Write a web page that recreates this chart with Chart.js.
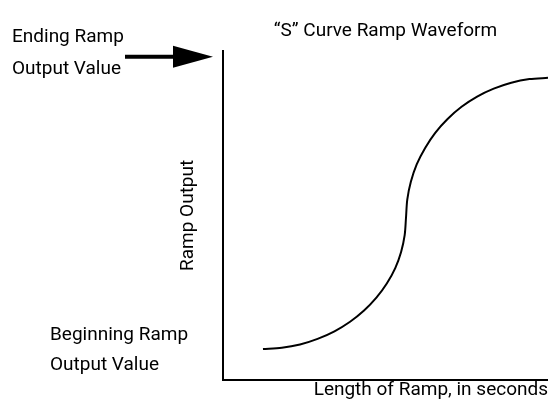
<!DOCTYPE html>
<html>
<head>
<meta charset="utf-8">
<script src="https://cdn.jsdelivr.net/npm/chart.js@4"></script>
<style>
  body { margin: 0; background: #fff; }
  canvas { display: block; }
</style>
</head>
<body>
<canvas id="rampa" width="548" height="405"></canvas>
<script>
// S curve (x = % of ramp time, y = % of output)
const rampTime   = [12.3, 18.1, 23.7, 29.1, 34.3, 39.1, 43.4, 47.2, 50.4, 53.0, 54.8, 55.9, 56.3,
                    56.7, 57.8, 59.6, 62.2, 65.3, 69.1, 73.4, 78.2, 83.3, 88.7, 94.3, 100];
const rampOutput = [ 9.4,  9.8, 10.8, 12.5, 14.8, 17.7, 21.1, 25.0, 29.3, 34.0, 38.9, 44.0, 49.2,
                    54.8, 60.2, 65.5, 70.5, 75.1, 79.3, 83.0, 86.1, 88.5, 90.3, 91.4, 91.8];
const axisRange = [0, 100];

const chartTitle = '\u201CS\u201D Curve Ramp Waveform';
const xTitle = 'Length of Ramp, in seconds';
const yTitle = 'Ramp Output';
const endLabel = ['Ending Ramp', 'Output Value'];
const beginLabel = ['Beginning Ramp', 'Output Value'];

const fonte = 'Roboto, "Liberation Sans", sans-serif';

const pontos = rampTime.map((t, i) => ({x: t, y: rampOutput[i]}));

// texts on the left + arrow, placed from the y scale
const rotulos = {
  id: 'rotulos',
  afterDraw(chart) {
    const ctx = chart.ctx;
    const y = chart.scales.y;
    const topo = y.getPixelForValue(axisRange[1]);
    const inicio = y.getPixelForValue(rampOutput[0]);
    ctx.save();
    ctx.fillStyle = '#000';
    ctx.font = '19px ' + fonte;
    ctx.textAlign = 'left';
    ctx.textBaseline = 'alphabetic';
    ctx.fillText(endLabel[0], 12, topo - 9);
    ctx.fillText(endLabel[1], 12, topo + 23);
    ctx.fillText(beginLabel[0], 50, inicio - 9);
    ctx.fillText(beginLabel[1], 50, inicio + 21);

    // arrow
    const ay = topo + 6;
    const ponta = chart.chartArea.left - 10;
    ctx.strokeStyle = '#000';
    ctx.lineWidth = 4;
    ctx.beginPath();
    ctx.moveTo(125, ay);
    ctx.lineTo(ponta - 30, ay);
    ctx.stroke();
    ctx.beginPath();
    ctx.moveTo(ponta - 40, ay - 11);
    ctx.lineTo(ponta, ay);
    ctx.lineTo(ponta - 40, ay + 11);
    ctx.closePath();
    ctx.fill();
    ctx.restore();
  }
};

new Chart(document.getElementById('rampa'), {
  type: 'scatter',
  data: {
    datasets: [{
      data: pontos,
      showLine: true,
      borderColor: '#000',
      borderWidth: 2,
      pointRadius: 0,
      tension: 0.3,
      fill: false
    }]
  },
  options: {
    responsive: false,
    animation: false,
    layout: { padding: { left: 170, top: 0, right: 0, bottom: 0 } },
    plugins: {
      legend: { display: false },
      tooltip: { enabled: false },
      title: {
        display: true,
        text: chartTitle,
        fullSize: false,
        color: '#000',
        font: { family: fonte, size: 19, weight: 'normal' },
        padding: { top: 20, bottom: 8 }
      }
    },
    scales: {
      x: {
        type: 'linear',
        min: axisRange[0],
        max: axisRange[1],
        grid: { display: false, drawTicks: false },
        border: { display: true, color: '#000', width: 2 },
        ticks: { display: false },
        title: {
          display: true,
          text: xTitle,
          align: 'end',
          color: '#000',
          font: { family: fonte, size: 19 },
          padding: { top: 0, bottom: 3 }
        },
        afterFit: s => { s.height = 25; }
      },
      y: {
        type: 'linear',
        min: axisRange[0],
        max: axisRange[1],
        grid: { display: false, drawTicks: false },
        border: { display: true, color: '#000', width: 2 },
        ticks: { display: false },
        title: {
          display: true,
          text: yTitle,
          color: '#000',
          font: { family: fonte, size: 19 },
          padding: { top: 7, bottom: 0 }
        },
        afterFit: s => { s.width = 53; }
      }
    }
  },
  plugins: [rotulos]
});
</script>
</body>
</html>
